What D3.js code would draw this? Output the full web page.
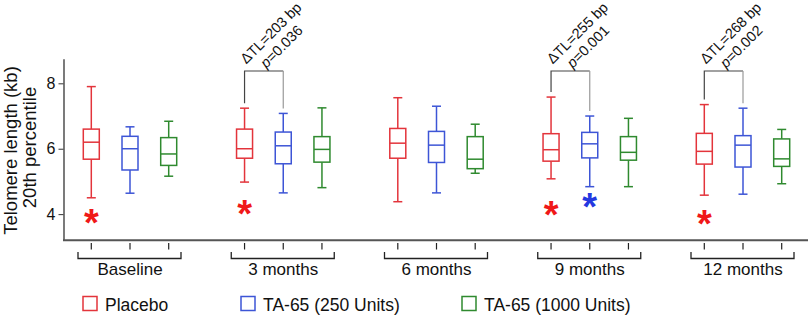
<!DOCTYPE html>
<html>
<head>
<meta charset="utf-8">
<title>Telomere length boxplots</title>
<script src="https://cdn.jsdelivr.net/npm/d3@7/dist/d3.min.js"></script>
<style>
	body { margin: 0; background: #fff; }
	svg { display: block; font-family: "Liberation Sans", Arial, Helvetica, sans-serif; }
</style>
</head>
<body>
<svg id="chart" width="812" height="322"></svg>
<script>
// groups (time points) and treatment arms
var groups = ["Baseline", "3 months", "6 months", "9 months", "12 months"];
var arms = ["Placebo", "TA-65 (250 Units)", "TA-65 (1000 Units)"];
var armColors = ["#e3343b", "#3d55d6", "#2f8a2f"];
var yTicks = [4, 6, 8];

// box stats per group, one row per arm: [low whisker, q1, median, q3, high whisker]
var baseline = [[4.50, 5.68, 6.20, 6.60, 7.90], [4.64, 5.35, 6.00, 6.38, 6.67], [5.16, 5.49, 5.84, 6.34, 6.84]];
var month3 = [[4.98, 5.71, 6.00, 6.60, 7.24], [4.65, 5.54, 6.09, 6.51, 7.08], [4.81, 5.59, 5.98, 6.37, 7.25]];
var month6 = [[4.38, 5.71, 6.17, 6.62, 7.56], [4.65, 5.58, 6.11, 6.53, 7.30], [5.25, 5.39, 5.68, 6.37, 6.75]];
var month9 = [[5.08, 5.62, 5.97, 6.46, 7.58], [4.84, 5.72, 6.15, 6.50, 7.00], [4.84, 5.65, 5.89, 6.37, 6.93]];
var month12 = [[4.58, 5.53, 5.92, 6.47, 7.35], [4.61, 5.44, 6.11, 6.40, 7.24], [4.93, 5.46, 5.69, 6.30, 6.59]];
var stats = [baseline, month3, month6, month9, month12];

// significance asterisks: [group index, arm index, value]
var stars = [[0, 0, 4.01], [1, 0, 4.28], [3, 0, 4.25], [3, 1, 4.48], [4, 0, 3.97]];

// comparisons placebo vs 250 units
var compGroups = [1, 3, 4];
var compDelta = ["203", "255", "268"];
var compP = ["0.036", "0.001", "0.002"];

var svg = d3.select("#chart");

var x = d3.scalePoint().domain(groups).range([130, 743]);
var armOffset = d3.scalePoint().domain(d3.range(arms.length)).range([-38.7, 38.7]);
var y = d3.scaleLinear().domain([3.2, 8.75]).range([240.3, 58.8]);

var boxW = 16, capW = 9;

// y axis
svg.append("g")
	.attr("transform", "translate(63.5,0)")
	.call(d3.axisLeft(y).tickValues(yTicks).tickFormat(d3.format("d")).tickSize(5).tickPadding(3).tickSizeOuter(0))
	.call(g => g.select(".domain").attr("stroke", "#333").attr("stroke-width", 1.3))
	.call(g => g.selectAll(".tick line").attr("stroke", "#333"))
	.call(g => g.selectAll(".tick text").attr("font-size", 16).attr("fill", "#111").attr("font-family", "inherit"));

// x axis baseline
svg.append("line")
	.attr("x1", 63).attr("x2", 808)
	.attr("y1", y(3.2)).attr("y2", y(3.2))
	.attr("stroke", "#555").attr("stroke-width", 2);

// y title
svg.append("text")
	.attr("transform", "translate(16.5,150.5) rotate(-90)")
	.attr("text-anchor", "middle").attr("font-size", 18.5).attr("fill", "#111")
	.text("Telomere length (kb)");
svg.append("text")
	.attr("transform", "translate(36,147.5) rotate(-90)")
	.attr("text-anchor", "middle").attr("font-size", 18.5).attr("fill", "#111")
	.text("20th percentile");

// flatten boxes
var boxes = [];
stats.forEach(function (rows, gi) {
	rows.forEach(function (s, ai) {
		boxes.push({ g: groups[gi], a: ai, s: s, cx: x(groups[gi]) + armOffset(ai) });
	});
});

var bg = svg.append("g").selectAll("g").data(boxes).join("g")
	.attr("stroke", d => armColors[d.a])
	.attr("stroke-width", 1.5)
	.attr("fill", "none");

bg.append("line").attr("x1", d => d.cx).attr("x2", d => d.cx)
	.attr("y1", d => y(d.s[0])).attr("y2", d => y(d.s[1]));
bg.append("line").attr("x1", d => d.cx).attr("x2", d => d.cx)
	.attr("y1", d => y(d.s[3])).attr("y2", d => y(d.s[4]));
bg.append("line").attr("x1", d => d.cx - capW / 2).attr("x2", d => d.cx + capW / 2)
	.attr("y1", d => y(d.s[0])).attr("y2", d => y(d.s[0]));
bg.append("line").attr("x1", d => d.cx - capW / 2).attr("x2", d => d.cx + capW / 2)
	.attr("y1", d => y(d.s[4])).attr("y2", d => y(d.s[4]));
bg.append("rect").attr("x", d => d.cx - boxW / 2).attr("width", boxW)
	.attr("y", d => y(d.s[3])).attr("height", d => y(d.s[1]) - y(d.s[3]))
	.attr("fill", "#fff");
bg.append("line").attr("x1", d => d.cx - boxW / 2).attr("x2", d => d.cx + boxW / 2)
	.attr("y1", d => y(d.s[2])).attr("y2", d => y(d.s[2]));

// x ticks under each box
svg.append("g").selectAll("line").data(boxes).join("line")
	.attr("x1", d => d.cx).attr("x2", d => d.cx)
	.attr("y1", 243).attr("y2", 249.5)
	.attr("stroke", "#222").attr("stroke-width", 1.2);

// group brackets + labels
var br = svg.append("g").selectAll("g").data(groups).join("g")
	.attr("transform", d => "translate(" + x(d) + ",0)");
br.append("path")
	.attr("d", "M-52,252V258.5H51V252")
	.attr("fill", "none").attr("stroke", "#222").attr("stroke-width", 1.3);
br.append("text")
	.attr("y", 275).attr("text-anchor", "middle")
	.attr("font-size", 17).attr("fill", "#111")
	.text(d => d);

// asterisks
svg.append("g").selectAll("text").data(stars).join("text")
	.attr("x", d => x(groups[d[0]]) + armOffset(d[1]))
	.attr("y", d => y(d[2]) + 22)
	.attr("text-anchor", "middle")
	.attr("font-size", 38).attr("font-weight", "bold")
	.attr("fill", d => d[1] === 0 ? "#f01818" : "#2438e0")
	.text("*");

// comparison brackets
var cg = svg.append("g").selectAll("g").data(compGroups).join("g");
cg.each(function (gi, i) {
	var g = d3.select(this);
	var rows = stats[gi];
	var x0 = x(groups[gi]) + armOffset(0);
	var x1 = x(groups[gi]) + armOffset(1);
	var top = 71;
	g.append("path")
		.attr("d", "M" + x0 + "," + (y(rows[0][4]) - 5) + "V" + top + "H" + x1)
		.attr("fill", "none").attr("stroke", "#444").attr("stroke-width", 1.2);
	g.append("line")
		.attr("x1", x1).attr("x2", x1)
		.attr("y1", top).attr("y2", y(rows[1][4]) - 5)
		.attr("stroke", "#999").attr("stroke-width", 1.2);
	var lab = g.append("g")
		.attr("transform", "translate(" + ((x0 + x1) / 2 + 7) + ",33) rotate(-45)")
		.attr("font-size", 14.5).attr("fill", "#111").attr("text-anchor", "middle");
	lab.append("text").attr("x", 0).attr("y", 5).text("\u0394TL=" + compDelta[i] + " bp");
	var t2 = lab.append("text").attr("x", -2).attr("y", 22);
	t2.append("tspan").attr("font-style", "italic").text("p");
	t2.append("tspan").text("=" + compP[i]);
});

// legend
var legX = [83, 241, 462];
var lg = svg.append("g").selectAll("g").data(arms).join("g")
	.attr("transform", (d, i) => "translate(" + legX[i] + ",296.5)");
lg.append("rect").attr("width", 14).attr("height", 14)
	.attr("fill", "none").attr("stroke", (d, i) => armColors[i]).attr("stroke-width", 1.5);
lg.append("text").attr("x", 22).attr("y", 14)
	.attr("font-size", 17.5).attr("fill", "#111")
	.text(d => d);
</script>
</body>
</html>
